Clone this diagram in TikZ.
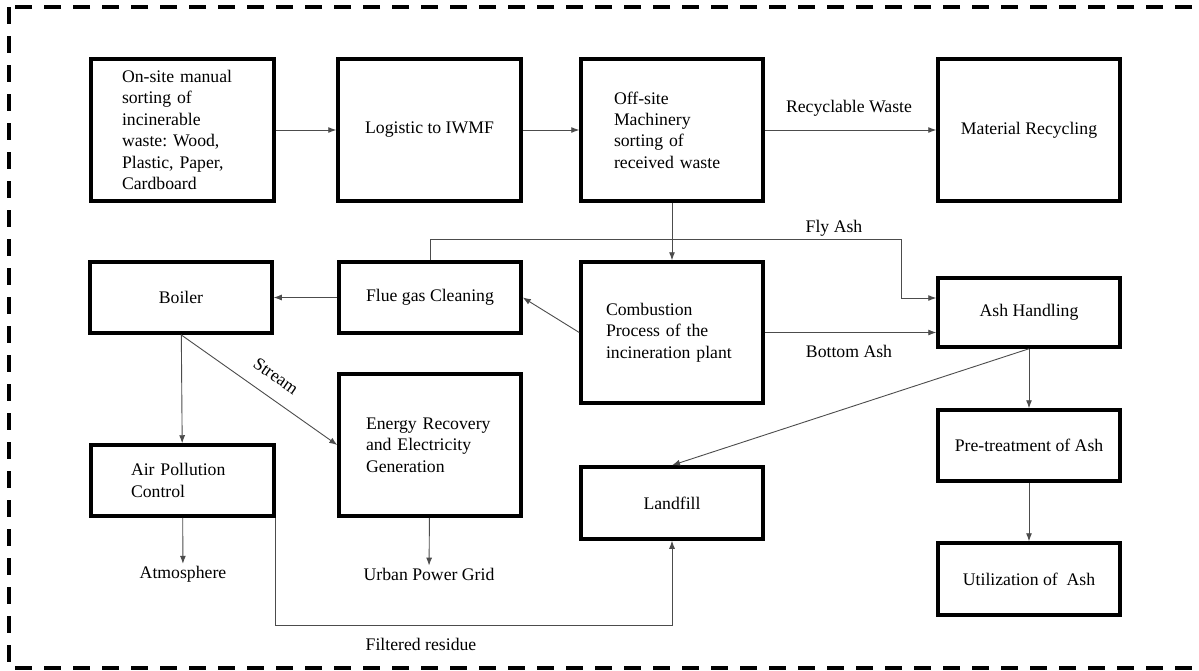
\documentclass[tikz,border=0pt]{standalone}
\usepackage{fontspec}
\setmainfont{Liberation Serif}
\usetikzlibrary{arrows.meta,calc}
\frenchspacing
\begin{document}
\begin{tikzpicture}[x=1pt,y=-1pt,
  every node/.style={font=\fontsize{17.7}{21.4}\selectfont},
  box/.style={draw, line width=3.5pt, minimum width=182pt, inner sep=0pt, align=center},
  lbox/.style={box, align=left},
  flow/.style={draw=black!70, line width=0.9pt, -{Latex[length=8pt,width=6pt]}},
  lbl/.style={inner sep=2pt}
]
\useasboundingbox (0,0) rectangle (1199,670);

% dashed outer frame
\begin{scope}
  \clip (0,0) rectangle (1199,670);
  \draw[line width=4pt, dash pattern=on 17pt off 12pt] (9,7) rectangle (1230,668);
\end{scope}

% top row
\node[lbox, minimum height=142pt, text width=121pt, inner xsep=31pt] (onsite) at (182.5,130)
  {On-site manual\\sorting of\\incinerable\\waste: Wood,\\Plastic, Paper,\\Cardboard};
\node[box, minimum width=183pt, minimum height=142pt] (logistic) at (429.5,130) {Logistic to IWMF};
\node[lbox, minimum height=142pt, text width=116pt, inner xsep=33pt] (offsite) at (672,130)
  {Off-site\\Machinery\\sorting of\\received waste};
\node[box, minimum height=142pt] (recycling) at (1029,130) {Material Recycling};

% middle row
\node[box, minimum height=71pt] (boiler) at (181,297.5) {Boiler};
\node[box, minimum height=71pt] (flue) at (430,297.5) {Flue gas Cleaning};
\node[lbox, minimum height=141pt, text width=132pt, inner xsep=25pt] (combustion) at (672,332.5)
  {Combustion\\Process of the\\incineration plant};
\node[box, minimum height=69pt] (ash) at (1029,312.5) {Ash Handling};

% lower rows
\node[lbox, minimum height=71pt, text width=103pt, inner xsep=40pt] (apc) at (182.5,480.5)
  {Air Pollution\\Control};
\node[lbox, minimum height=142pt, text width=128pt, inner xsep=27pt] (energy) at (430,445)
  {Energy Recovery\\and Electricity\\Generation};
\node[box, minimum height=71pt] (pretreat) at (1029,445.5) {Pre-treatment of Ash};
\node[box, minimum height=72pt] (landfill) at (672,503) {Landfill};
\node[box, minimum height=72pt] (util) at (1029,579) {Utilization of~~Ash};

% outputs
\node[lbl] (atm) at (183,574) {Atmosphere};
\node[lbl] (grid) at (429,574) {Urban Power Grid};

% flow labels
\node[lbl] (lrecyc) at (849,108) {Recyclable Waste};
\node[lbl] (lfly) at (834,228) {Fly Ash};
\node[lbl] (lbottom) at (849,351) {Bottom Ash};
\node[lbl, rotate=-35] (lstream) at (276,376) {Stream};
\node[lbl] (lresidue) at (421,644) {Filtered residue};

% connectors
\draw[flow] (onsite) -- (logistic);
\draw[flow] (logistic) -- (offsite);
\draw[flow] (offsite) -- (recycling);
\draw[flow] (offsite) -- (combustion);
\draw[flow] (combustion.west) -- (flue.east);
\draw[flow] (flue) -- (boiler);
\coordinate (flyturn) at (901,239);
\coordinate (flyin) at ($(ash.north west)!0.3!(ash.south west)$);
\draw[flow] (flue.north) |- (flyturn) |- (flyin);
\coordinate (bottomin) at ($(ash.north west)!0.8!(ash.south west)$);
\draw[flow] (combustion.east) -- (combustion.east -| bottomin);
\draw[flow] (ash.south) -- (landfill.north);
\draw[flow] (ash) -- (pretreat);
\draw[flow] (pretreat) -- (util);
\draw[flow] (boiler) -- (apc);
\draw[flow] (boiler.south) -- (energy.west);
\draw[flow] (apc) -- (atm);
\draw[flow] (energy) -- (grid);
\coordinate (residue) at (470,625);
\draw[flow] (apc.south east) |- (residue) -| (landfill.south);

\end{tikzpicture}
\end{document}
